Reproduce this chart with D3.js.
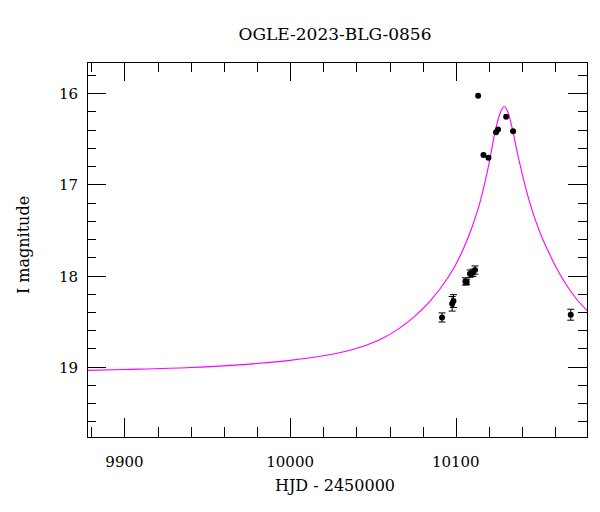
<!DOCTYPE html>
<html>
<head>
<meta charset="utf-8">
<script src="https://cdn.jsdelivr.net/npm/d3@7"></script>
<style>
  body { margin: 0; background: #fff; }
  text { font-family: "DejaVu Serif", serif; fill: #000; }
</style>
</head>
<body>
<div class="graph"></div>
<script>
// observed photometry
var obsHjd = [10091.7, 10097.8, 10098.6, 10105.8, 10106.6, 10108.6, 10110.3, 10111.6,
              10113.5, 10116.7, 10119.7, 10124.3, 10125.5, 10130.4, 10134.6, 10169.4];
var obsMag = [18.46, 18.31, 18.28, 18.065, 18.07, 17.98, 17.97, 17.94,
              16.03, 16.68, 16.71, 16.43, 16.40, 16.26, 16.42, 18.43];
var obsErr = [0.05, 0.08, 0.07, 0.04, 0.03, 0.04, 0.04, 0.045,
              0.01, 0.01, 0.01, 0.01, 0.01, 0.01, 0.01, 0.06];

// model curve
var modelHjd = [9877.5, 9900, 9940, 9980, 10000, 10020, 10035, 10045, 10055, 10065,
                10075, 10085, 10095, 10100, 10105, 10110, 10115, 10120, 10124, 10127,
                10129.2, 10131.5, 10134, 10137, 10140, 10144, 10148, 10152, 10157, 10162,
                10167, 10173, 10179.5];
var modelMag = [19.04, 19.03, 19.008, 18.965, 18.93, 18.88, 18.825, 18.77, 18.695, 18.59,
                18.45, 18.27, 18.03, 17.88, 17.69, 17.46, 17.17, 16.78, 16.40, 16.21,
                16.15, 16.21, 16.38, 16.64, 16.88, 17.16, 17.39, 17.58, 17.78, 17.96,
                18.11, 18.26, 18.39];

var xMajor = [9900, 10000, 10100];
var yMajor = [16, 17, 18, 19];

var width = 600, height = 512;
var plotLeft = 87, plotRight = 587, plotTop = 62, plotBottom = 437;

var svg = d3.select(".graph").append("svg")
  .attr("width", width)
  .attr("height", height);

var x = d3.scaleLinear().domain([9877.4, 10179.2]).range([plotLeft, plotRight]);
var y = d3.scaleLinear().domain([15.66, 19.77]).range([plotTop, plotBottom]);

var xMinor = d3.range(9880, 10180, 20).filter(v => xMajor.indexOf(v) < 0);
var yMinor = d3.range(15.8, 19.75, 0.2).map(v => +v.toFixed(1)).filter(v => yMajor.indexOf(v) < 0);

var ticks = svg.append("g").attr("stroke", "#000").attr("stroke-width", 1);

//ticks on all four sides, pointing in
function xTicks(vals, len) {
  vals.forEach(function(v) {
    var px = Math.round(x(v)) + 0.5;
    ticks.append("line").attr("x1", px).attr("x2", px).attr("y1", plotBottom).attr("y2", plotBottom - len);
    ticks.append("line").attr("x1", px).attr("x2", px).attr("y1", plotTop).attr("y2", plotTop + len);
  });
}
function yTicks(vals, len) {
  vals.forEach(function(v) {
    var py = Math.round(y(v)) + 0.5;
    ticks.append("line").attr("y1", py).attr("y2", py).attr("x1", plotLeft).attr("x2", plotLeft + len);
    ticks.append("line").attr("y1", py).attr("y2", py).attr("x1", plotRight).attr("x2", plotRight - len);
  });
}
xTicks(xMajor, 19);
xTicks(xMinor, 10);
yTicks(yMajor, 19);
yTicks(yMinor, 9);

//model
var line = d3.line()
  .x((d, i) => x(modelHjd[i]))
  .y((d, i) => y(modelMag[i]))
  .curve(d3.curveMonotoneX);

svg.append("clipPath").attr("id", "clip")
  .append("rect").attr("x", plotLeft).attr("y", plotTop)
  .attr("width", plotRight - plotLeft).attr("height", plotBottom - plotTop);

svg.append("path")
  .datum(modelHjd)
  .attr("clip-path", "url(#clip)")
  .attr("d", line)
  .attr("fill", "none")
  .attr("stroke", "#ff00ff")
  .attr("stroke-width", 1.1);

//error bars and points
var pts = svg.append("g");
obsHjd.forEach(function(h, i) {
  var cx = x(h), cy = y(obsMag[i]);
  var y1 = y(obsMag[i] - obsErr[i]), y2 = y(obsMag[i] + obsErr[i]);
  if (obsErr[i] > 0.02) {
    pts.append("line").attr("x1", cx).attr("x2", cx).attr("y1", y1).attr("y2", y2)
      .attr("stroke", "#000").attr("stroke-width", 1);
    pts.append("line").attr("x1", cx - 3.5).attr("x2", cx + 3.5).attr("y1", y1).attr("y2", y1)
      .attr("stroke", "#000").attr("stroke-width", 1);
    pts.append("line").attr("x1", cx - 3.5).attr("x2", cx + 3.5).attr("y1", y2).attr("y2", y2)
      .attr("stroke", "#000").attr("stroke-width", 1);
  }
  pts.append("circle").attr("cx", cx).attr("cy", cy).attr("r", 3).attr("fill", "#000");
});

//frame
svg.append("rect")
  .attr("x", plotLeft + 0.5).attr("y", plotTop + 0.5)
  .attr("width", plotRight - plotLeft).attr("height", plotBottom - plotTop)
  .attr("fill", "none").attr("stroke", "#000").attr("stroke-width", 1);

//labels
svg.append("g").selectAll("text").data(xMajor).enter().append("text")
  .attr("x", d => x(d)).attr("y", 467)
  .attr("text-anchor", "middle").attr("font-size", 15)
  .text(d => d);

svg.append("g").selectAll("text").data(yMajor).enter().append("text")
  .attr("x", 78).attr("y", d => y(d) + 6)
  .attr("text-anchor", "end").attr("font-size", 15)
  .text(d => d);

svg.append("text")
  .attr("x", 335).attr("y", 40)
  .attr("text-anchor", "middle").attr("font-size", 17)
  .text("OGLE-2023-BLG-0856");

svg.append("text")
  .attr("x", 335).attr("y", 491)
  .attr("text-anchor", "middle").attr("font-size", 16)
  .text("HJD - 2450000");

svg.append("text")
  .attr("transform", "translate(29,245) rotate(-90)")
  .attr("text-anchor", "middle").attr("font-size", 16)
  .text("I magnitude");
</script>
</body>
</html>
